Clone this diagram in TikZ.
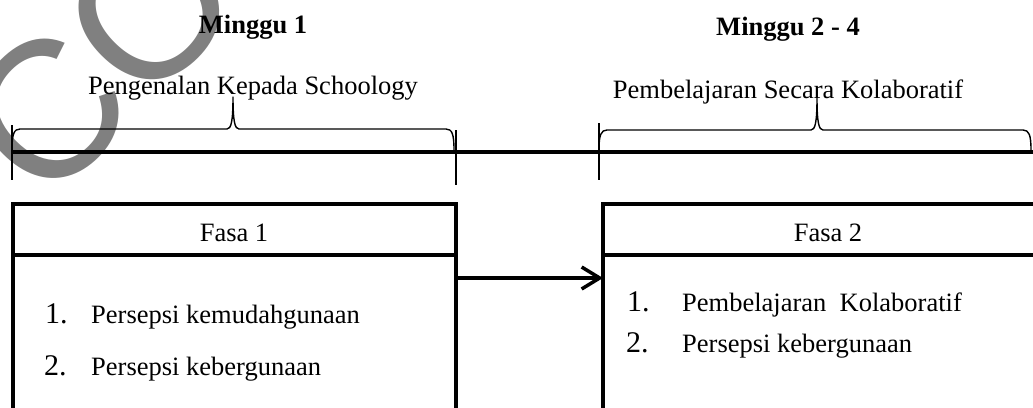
\documentclass[tikz,border=0pt]{standalone}
\usepackage{fontspec}
\setmainfont{Liberation Serif}
\newfontfamily\wmfont{Liberation Sans}
\usetikzlibrary{arrows.meta}
\begin{document}
\begin{tikzpicture}[x=1pt,y=-1pt,
  txt/.style={inner sep=0pt, font=\fontsize{26.5}{30}\selectfont},
  head/.style={inner sep=0pt, font=\fontsize{26.5}{30}\selectfont\bfseries},
  num/.style={inner sep=0pt, font=\fontsize{30}{34}\selectfont},
  phasebox/.style={draw, line width=4pt, rectangle, inner sep=0pt, outer sep=0pt, anchor=north west},
  bracepath/.style={line width=1.4pt, line join=round},
  tickline/.style={line width=1.4pt},
  timeline/.style={line width=3.5pt},
  conn/.style={line width=3.5pt, -{Straight Barb[length=18pt,width=22pt]}},
  watermark/.style={inner sep=0pt, text=black!50, font=\wmfont\fontsize{195}{200}\selectfont, rotate=45, anchor=base west}
]
\useasboundingbox (0,0) rectangle (1033,407);
\clip (0,0) rectangle (1033,407);

% watermark
\node[watermark] (wm) at (44,210) {COPY};

% headings
\node[head, anchor=base] (m1) at (253,33) {Minggu 1};
\node[head, anchor=base] (m2) at (788,35) {Minggu 2 - 4};
\node[txt, anchor=base] (l1) at (253,94) {Pengenalan Kepada Schoology};
\node[txt, anchor=base] (l2) at (788,98) {Pembelajaran Secara Kolaboratif};

% braces
\draw[bracepath] (12,150) .. controls (12,134) and (14,129) .. (20,129) -- (227,129)
  .. controls (231,129) and (233,122) .. (233,97)
  .. controls (233,122) and (235,129) .. (239,129) -- (446,129)
  .. controls (452,129) and (454,134) .. (454,150);
\draw[bracepath] (599,150) .. controls (599,135) and (601,130) .. (607,130) -- (811,130)
  .. controls (815,130) and (817,123) .. (817,98)
  .. controls (817,123) and (819,130) .. (823,130) -- (1023,130)
  .. controls (1029,130) and (1031,135) .. (1031,150);
\draw[tickline] (12,125) -- (12,180);
\draw[tickline] (456,130) -- (456,185);
\draw[tickline] (599,123) -- (599,180);

% timeline
\coordinate (t0) at (12,152);
\coordinate (t1) at (1040,152);
\draw[timeline] (t0) -- (t1);

% boxes
\node[phasebox, minimum width=443pt, minimum height=260pt] (box1) at (12.5,204) {};
\node[phasebox, minimum width=452pt, minimum height=260pt] (box2) at (603,204) {};
\draw[line width=4pt] ([yshift=-51pt]box1.north west) -- ([yshift=-51pt]box1.north east);
\draw[line width=4pt] ([yshift=-51pt]box2.north west) -- ([yshift=-51pt]box2.north east);

\node[txt, anchor=base] (f1) at (234,241) {Fasa 1};
\node[txt, anchor=base] (f2) at (828,241) {Fasa 2};

\node[num, anchor=base west] (n11) at (45,323) {1.};
\node[txt, anchor=base west] (i11) at (91,323) {Persepsi kemudahgunaan};
\node[num, anchor=base west] (n12) at (44,375) {2.};
\node[txt, anchor=base west] (i12) at (91,375) {Persepsi kebergunaan};

\node[num, anchor=base west] (n21) at (627,311) {1.};
\node[txt, anchor=base west] (i21) at (682,311) {Pembelajaran\ \ Kolaboratif};
\node[num, anchor=base west] (n22) at (626,352) {2.};
\node[txt, anchor=base west] (i22) at (682,352) {Persepsi kebergunaan};

% arrow
\coordinate (ay) at (0,278);
\draw[conn] (box1.east |- ay) -- (box2.west |- ay);
\end{tikzpicture}
\end{document}
